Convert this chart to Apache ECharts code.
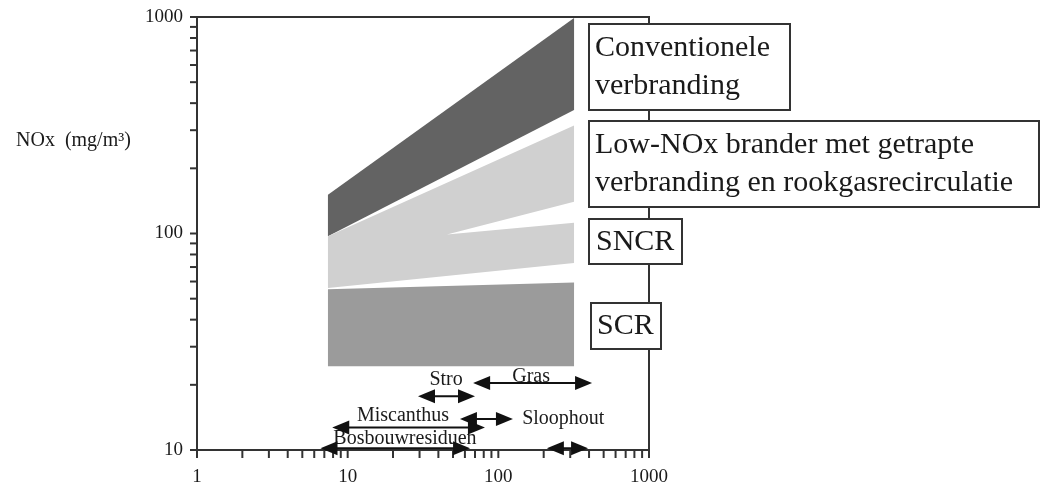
<!DOCTYPE html>
<html>
<head>
<meta charset="utf-8">
<script src="https://cdn.jsdelivr.net/npm/echarts@6/dist/echarts.min.js"></script>
<style>
  html, body { margin: 0; padding: 0; background: #fff; }
  #chart { width: 1040px; height: 487px; }
</style>
</head>
<body>
<div id="chart"></div>
<script>
// NOx-emissie (mg/m3) bij verschillende technieken, log-log
const xAxisLabels = [1, 10, 100, 1000];
const yAxisLabels = [10, 100, 1000];
const xTickValues = [1, 2, 3, 4, 5, 6, 7, 8, 9, 10, 20, 30, 40, 50, 60, 70, 80, 90,
                     100, 200, 300, 400, 500, 600, 700, 800, 900, 1000];
const yTickValues = [10, 20, 30, 40, 50, 60, 70, 80, 90, 100, 200, 300, 400, 500,
                     600, 700, 800, 900, 1000];

// Emissiebanden als polygonen [vermogen, NOx]
const conventioneel = [[7.4, 151], [318, 990], [318, 372], [7.4, 97]];
const lowNoxSncr = [[7.4, 97], [318, 315], [318, 140], [45.6, 99], [318, 112], [318, 73], [7.4, 56]];
const scr = [[7.4, 55.2], [318, 59.4], [318, 24.4], [7.4, 24.4]];

// Brandstofbereiken: van, tot, hoogte
const rangeFrom  = [29.3, 68, 7.9, 55.6, 6.6, 210];
const rangeTo    = [70, 419, 81.5, 125, 64.9, 394];
const rangeLevel = [17.7, 20.4, 12.7, 13.9, 10.2, 10.2];

// Brandstofnamen
const fuelNames = ['Stro', 'Gras', 'Miscanthus', 'Sloophout', 'Bosbouwresiduen'];
const fuelX     = [45, 165, 23.3, 144, 24];
const fuelY     = [21, 21.7, 14.4, 13.9, 11.3];

const serif = '"Liberation Serif", "Times New Roman", serif';
const ink = '#1a1a1a';

const bands = [
  { pts: conventioneel, color: '#636363' },
  { pts: lowNoxSncr, color: '#d0d0d0' },
  { pts: scr, color: '#9b9b9b' }
];

const chart = echarts.init(document.getElementById('chart'), null, { renderer: 'canvas' });

function box(x, y, w, h, text, tx, ty) {
  return [
    { type: 'rect', z: 100, shape: { x: x, y: y, width: w, height: h },
      style: { fill: '#fff', stroke: '#333', lineWidth: 2 } },
    { type: 'text', z: 101, x: tx, y: ty,
      style: { text: text, font: '30px ' + serif, fill: ink, lineHeight: 38,
               verticalAlign: 'top', align: 'left' } }
  ];
}

chart.setOption({
  animation: false,
  backgroundColor: '#fff',
  grid: { left: 197, right: 391, top: 17, bottom: 36, show: true,
          borderColor: '#333', borderWidth: 2, backgroundColor: 'transparent' },
  xAxis: {
    type: 'log', logBase: 10, min: 1, max: 1000,
    axisLine: { lineStyle: { color: '#333', width: 2 } },
    axisTick: { show: false },
    splitLine: { show: false },
    axisLabel: {
      margin: 18, color: ink, fontFamily: serif, fontSize: 19,
      formatter: function (v) { return xAxisLabels.indexOf(Math.round(v)) >= 0 ? String(Math.round(v)) : ''; }
    }
  },
  yAxis: {
    type: 'log', logBase: 10, min: 10, max: 1000,
    axisLine: { lineStyle: { color: '#333', width: 2 } },
    axisTick: { show: false },
    splitLine: { show: false },
    axisLabel: {
      margin: 14, color: ink, fontFamily: serif, fontSize: 19,
      formatter: function (v) { return yAxisLabels.indexOf(Math.round(v)) >= 0 ? String(Math.round(v)) : ''; }
    }
  },
  series: [
    {
      type: 'custom', name: 'banden', z: 2, clip: false,
      data: bands.map(b => b.pts[0]),
      renderItem: function (params, api) {
        const b = bands[params.dataIndex];
        return { type: 'polygon', shape: { points: b.pts.map(p => api.coord(p)) },
                 style: { fill: b.color } };
      }
    },
    {
      type: 'custom', name: 'xticks', z: 3, clip: false,
      data: xTickValues.map(v => [v, 10]),
      renderItem: function (params, api) {
        const p = api.coord([api.value(0), 10]);
        return { type: 'line', shape: { x1: p[0], y1: p[1], x2: p[0], y2: p[1] + 8 },
                 style: { stroke: '#333', lineWidth: 2 } };
      }
    },
    {
      type: 'custom', name: 'yticks', z: 3, clip: false,
      data: yTickValues.map(v => [1, v]),
      renderItem: function (params, api) {
        const p = api.coord([1, api.value(1)]);
        return { type: 'line', shape: { x1: p[0] - 7, y1: p[1], x2: p[0], y2: p[1] },
                 style: { stroke: '#333', lineWidth: 2 } };
      }
    },
    {
      type: 'custom', name: 'namen', z: 4, clip: false,
      data: fuelNames.map((n, i) => [fuelX[i], fuelY[i]]),
      renderItem: function (params, api) {
        const i = params.dataIndex;
        const p = api.coord([api.value(0), api.value(1)]);
        return { type: 'text', x: p[0], y: p[1],
                 style: { text: fuelNames[i], font: '20px ' + serif, fill: ink,
                          align: fuelNames[i] === 'Sloophout' ? 'left' : 'center',
                          verticalAlign: 'middle' } };
      }
    },
    {
      type: 'custom', name: 'bereiken', z: 5, clip: false,
      data: rangeFrom.map((v, i) => [v, rangeLevel[i], rangeTo[i]]),
      encode: { x: 0, y: 1 },
      renderItem: function (params, api) {
        const y = api.value(1);
        const a = api.coord([api.value(0), y]);
        const b = api.coord([api.value(2), y]);
        const L = 17, H = 7;
        return {
          type: 'group',
          children: [
            { type: 'line', shape: { x1: a[0] + 4, y1: a[1], x2: b[0] - 4, y2: b[1] },
              style: { stroke: '#111', lineWidth: 2 } },
            { type: 'polygon', shape: { points: [[a[0], a[1]], [a[0] + L, a[1] - H], [a[0] + L, a[1] + H]] },
              style: { fill: '#111' } },
            { type: 'polygon', shape: { points: [[b[0], b[1]], [b[0] - L, b[1] - H], [b[0] - L, b[1] + H]] },
              style: { fill: '#111' } }
          ]
        };
      }
    }
  ],
  graphic: [
    { type: 'text', left: 16, top: 131, z: 100,
      style: { text: 'NOx  (mg/m³)', font: '20px ' + serif, fill: ink } }
  ].concat(
    box(589, 24, 201, 86, 'Conventionele\nverbranding', 595, 29),
    box(589, 121, 450, 86, 'Low-NOx brander met getrapte\nverbranding en rookgasrecirculatie', 595, 126),
    box(589, 219, 93, 45, 'SNCR', 596, 223),
    box(591, 303, 70, 46, 'SCR', 597, 307)
  )
});
</script>
</body>
</html>
